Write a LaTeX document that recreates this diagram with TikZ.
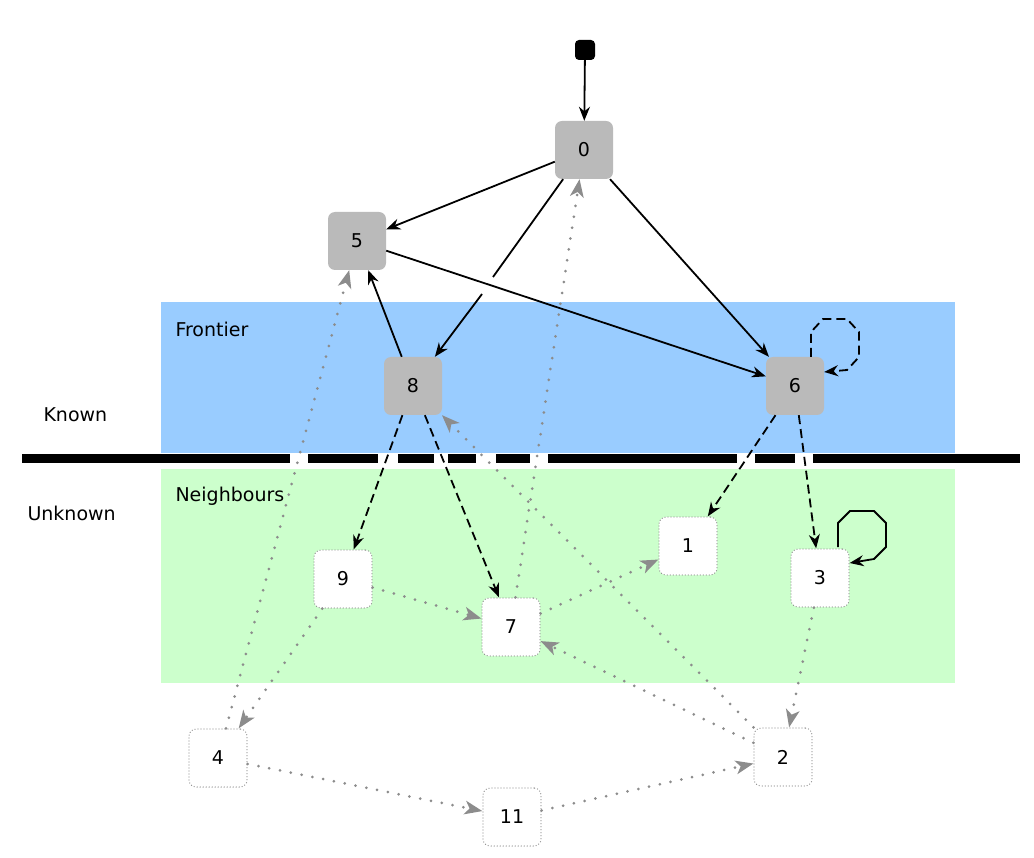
\documentclass[tikz,border=0pt]{standalone}
\usepackage{fontspec}
\setmainfont{DejaVu Sans}
\usetikzlibrary{arrows.meta,calc}
\definecolor{blueband}{RGB}{153,204,255}
\definecolor{greenband}{RGB}{204,255,204}
\begin{document}
\begin{tikzpicture}[x=1pt,y=-1pt,
 known/.style={draw=none,fill=black!27,rounded corners=7pt,minimum size=58pt,font=\fontsize{19}{19}\selectfont},
 unk/.style={draw=black!45,line width=1.3pt,dash pattern=on 0pt off 3pt,line cap=round,fill=white,rounded corners=7pt,minimum size=58pt,font=\fontsize{19}{19}\selectfont},
 ed/.style={-{Stealth[length=14pt,width=11pt]},line width=1.8pt},
 dsh/.style={dash pattern=on 9pt off 5pt},
 gd/.style={draw=black!45,line width=3pt,dash pattern=on 0pt off 11pt,line cap=round,-{Stealth[length=18pt,width=14pt,inset=5pt,fill=black!45,line width=0pt]}},
 lab/.style={font=\fontsize{19}{19}\selectfont,anchor=west}]
\useasboundingbox (0,0) rectangle (1034,858);
\fill[blueband] (161,302) rectangle (955,453);
\fill[greenband] (161,469) rectangle (955,683);
\draw[line width=9pt] (22,459) -- (1020,459);
\foreach \a/\b in {290/308,378/398,434/448,476/496,530/548,737/755,795/813}
  \fill[white] (\a,454) rectangle (\b,464);
\node[lab] (fr) at (172,329) {Frontier};
\node[lab] (nb) at (172,496) {Neighbours};
\node[lab] (kn) at (40,415) {Known};
\node[lab] (uk) at (24,513) {Unknown};
\node[fill=black,rounded corners=4pt,minimum size=20pt,inner sep=0] (s) at (585,50) {};
\node[known] (n0) at (584,150) {0};
\node[known] (n5) at (357,241) {5};
\node[known] (n8) at (413,386) {8};
\node[known] (n6) at (795,386) {6};
\node[unk] (n1) at (688,546) {1};
\node[unk] (n3) at (820,578) {3};
\node[unk] (n9) at (343,579) {9};
\node[unk] (n7) at (511,627) {7};
\node[unk] (n4) at (218,758) {4};
\node[unk] (n2) at (783,757) {2};
\node[unk] (n11) at (512,817) {11};
\coordinate (j1) at (493,277);
\coordinate (j2) at (482,294);
\draw[ed] (s) -- (n0);
\draw[ed] (n0) -- (n5);
\draw[line width=1.8pt] (n0) -- (j1);
\draw[ed] (j2) -- (n8);
\draw[ed] (n0) -- (n6);
\draw[ed] (n5) -- (n6);
\draw[ed] (n8) -- (n5);
\draw[ed,dsh] (n8) -- (n9);
\draw[ed,dsh] (n8) -- (n7);
\draw[ed,dsh] (n6) -- (n1);
\draw[ed,dsh] (n6) -- (n3);
\coordinate (o6) at (811,357);
\coordinate (o3) at (838,547);
\draw[ed,dsh] (o6) -- ++(0,-25) -- ++(12,-13) -- ++(24,0) -- ++(12,13) -- ++(0,25) -- ++(-12,13) -- (n6.east |- 0,372);
\draw[ed] (o3) -- ++(0,-24) -- ++(12,-12) -- ++(24,0) -- ++(12,12) -- ++(0,24) -- ++(-12,12) -- (n3.east |- 0,563);
\draw[gd] (n4) -- (n5);
\draw[gd] (n9) -- (n4);
\draw[gd] (n9) -- (n7);
\draw[gd] (n7) -- (n0);
\draw[gd] (n7) -- (n1);
\draw[gd] (n2) -- (n8);
\draw[gd] (n2) -- (n7);
\draw[gd] (n3) -- (n2);
\draw[gd] (n4) -- (n11);
\draw[gd] (n11) -- (n2);
\end{tikzpicture}
\end{document}
